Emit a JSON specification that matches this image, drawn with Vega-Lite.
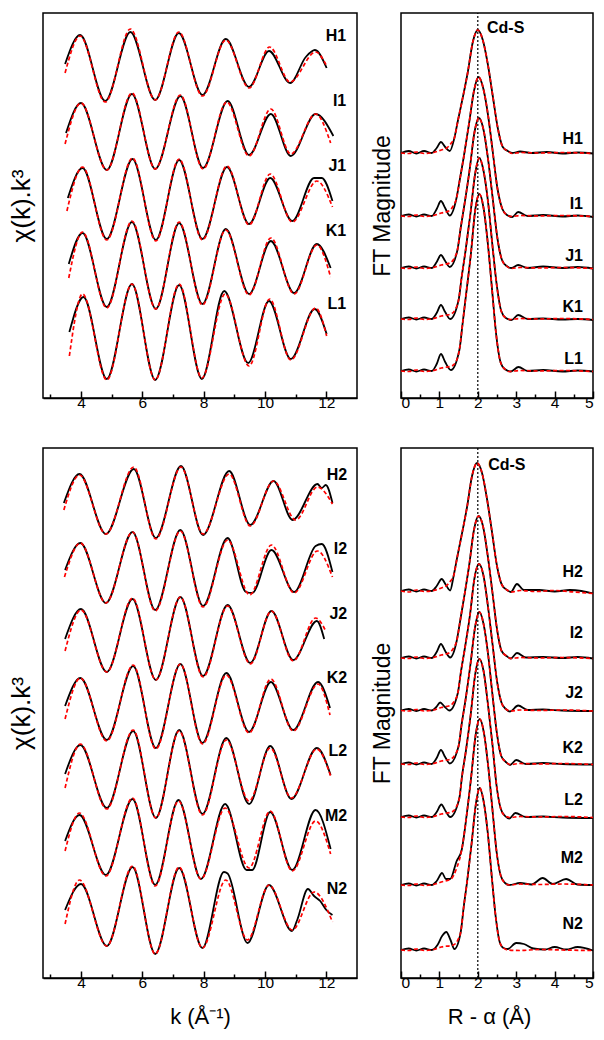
{
"$schema":"https://vega.github.io/schema/vega-lite/v6.json",
"padding":{"left":7,"top":11,"right":5,"bottom":5},
"background":"white",
"config":{"view":{"stroke":"#000","strokeWidth":1.5},"font":"Liberation Sans",
"axis":{"grid":false,"domainColor":"#000","domainWidth":1.5,"tickColor":"#000","tickWidth":1.5,"labelColor":"#000","titleColor":"#000","labelFont":"Liberation Sans","titleFont":"Liberation Sans","labelFontSize":15.5,"titleFontWeight":"normal","titleFontSize":22}},
"datasets":{
"tlD":[
{"s":"H1","x":3.48,"y":334},{"s":"H1","x":3.97,"y":363},{"s":"H1","x":4.79,"y":297},{"s":"H1","x":5.61,"y":366},{"s":"H1","x":6.42,"y":298},{"s":"H1","x":7.19,"y":365},{"s":"H1","x":7.96,"y":303},{"s":"H1","x":8.72,"y":359},{"s":"H1","x":9.48,"y":311},{"s":"H1","x":10.13,"y":347},{"s":"H1","x":10.82,"y":315},{"s":"H1","x":11.33,"y":341},{"s":"H1","x":11.63,"y":348},{"s":"H1","x":12.01,"y":330},
{"s":"I1","x":3.51,"y":265},{"s":"I1","x":4.0,"y":295},{"s":"I1","x":4.84,"y":228},{"s":"I1","x":5.66,"y":304},{"s":"I1","x":6.42,"y":229},{"s":"I1","x":7.24,"y":302},{"s":"I1","x":7.98,"y":230},{"s":"I1","x":8.78,"y":297},{"s":"I1","x":9.48,"y":243},{"s":"I1","x":10.19,"y":284},{"s":"I1","x":10.84,"y":242},{"s":"I1","x":11.65,"y":284},{"s":"I1","x":12.23,"y":262},
{"s":"J1","x":3.57,"y":200},{"s":"J1","x":4.05,"y":230},{"s":"J1","x":4.84,"y":159},{"s":"J1","x":5.68,"y":239},{"s":"J1","x":6.44,"y":158},{"s":"J1","x":7.2,"y":238},{"s":"J1","x":7.96,"y":159},{"s":"J1","x":8.76,"y":231},{"s":"J1","x":9.48,"y":174},{"s":"J1","x":10.17,"y":220},{"s":"J1","x":10.89,"y":177},{"s":"J1","x":11.6,"y":220},{"s":"J1","x":11.85,"y":220},{"s":"J1","x":12.2,"y":197},
{"s":"K1","x":3.6,"y":134},{"s":"K1","x":4.05,"y":165},{"s":"K1","x":4.84,"y":91},{"s":"K1","x":5.66,"y":176},{"s":"K1","x":6.44,"y":89},{"s":"K1","x":7.2,"y":175},{"s":"K1","x":7.96,"y":94},{"s":"K1","x":8.72,"y":169},{"s":"K1","x":9.48,"y":104},{"s":"K1","x":10.19,"y":157},{"s":"K1","x":10.95,"y":105},{"s":"K1","x":11.69,"y":154},{"s":"K1","x":12.14,"y":130},
{"s":"L1","x":3.62,"y":66},{"s":"L1","x":4.08,"y":101},{"s":"L1","x":4.84,"y":19},{"s":"L1","x":5.66,"y":114},{"s":"L1","x":6.42,"y":18},{"s":"L1","x":7.2,"y":113},{"s":"L1","x":7.94,"y":19},{"s":"L1","x":8.67,"y":107},{"s":"L1","x":9.45,"y":35},{"s":"L1","x":10.13,"y":97},{"s":"L1","x":10.84,"y":39},{"s":"L1","x":11.62,"y":89},{"s":"L1","x":12.01,"y":64}
],
"tlF":[
{"s":"H1","x":3.48,"y":325},{"s":"H1","x":3.97,"y":362},{"s":"H1","x":4.79,"y":296},{"s":"H1","x":5.61,"y":369},{"s":"H1","x":6.42,"y":298},{"s":"H1","x":7.19,"y":366},{"s":"H1","x":7.96,"y":302},{"s":"H1","x":8.72,"y":358},{"s":"H1","x":9.48,"y":310},{"s":"H1","x":10.15,"y":351},{"s":"H1","x":10.82,"y":316},{"s":"H1","x":11.65,"y":346},{"s":"H1","x":12.01,"y":332},
{"s":"I1","x":3.48,"y":254},{"s":"I1","x":4.0,"y":295},{"s":"I1","x":4.84,"y":228},{"s":"I1","x":5.66,"y":305},{"s":"I1","x":6.42,"y":229},{"s":"I1","x":7.24,"y":303},{"s":"I1","x":7.98,"y":229},{"s":"I1","x":8.75,"y":296},{"s":"I1","x":9.48,"y":242},{"s":"I1","x":10.19,"y":289},{"s":"I1","x":10.84,"y":244},{"s":"I1","x":11.65,"y":284},{"s":"I1","x":12.14,"y":255},
{"s":"J1","x":3.54,"y":187},{"s":"J1","x":4.05,"y":231},{"s":"J1","x":4.84,"y":158},{"s":"J1","x":5.68,"y":240},{"s":"J1","x":6.44,"y":157},{"s":"J1","x":7.2,"y":239},{"s":"J1","x":7.96,"y":158},{"s":"J1","x":8.76,"y":232},{"s":"J1","x":9.48,"y":173},{"s":"J1","x":10.17,"y":224},{"s":"J1","x":10.89,"y":176},{"s":"J1","x":11.69,"y":217},{"s":"J1","x":12.2,"y":191},
{"s":"K1","x":3.6,"y":120},{"s":"K1","x":4.05,"y":166},{"s":"K1","x":4.84,"y":90},{"s":"K1","x":5.66,"y":177},{"s":"K1","x":6.44,"y":89},{"s":"K1","x":7.2,"y":176},{"s":"K1","x":7.96,"y":93},{"s":"K1","x":8.72,"y":168},{"s":"K1","x":9.48,"y":103},{"s":"K1","x":10.19,"y":160},{"s":"K1","x":10.95,"y":104},{"s":"K1","x":11.69,"y":153},{"s":"K1","x":12.14,"y":121},
{"s":"L1","x":3.62,"y":42},{"s":"L1","x":4.05,"y":104},{"s":"L1","x":4.84,"y":18},{"s":"L1","x":5.66,"y":114},{"s":"L1","x":6.42,"y":18},{"s":"L1","x":7.2,"y":114},{"s":"L1","x":7.94,"y":20},{"s":"L1","x":8.7,"y":104},{"s":"L1","x":9.48,"y":32},{"s":"L1","x":10.15,"y":99},{"s":"L1","x":10.84,"y":38},{"s":"L1","x":11.65,"y":90},{"s":"L1","x":12.01,"y":62}
],
"blD":[
{"s":"H2","x":3.44,"y":475},{"s":"H2","x":3.95,"y":504},{"s":"H2","x":4.81,"y":444},{"s":"H2","x":5.72,"y":509},{"s":"H2","x":6.44,"y":440},{"s":"H2","x":7.26,"y":512},{"s":"H2","x":7.98,"y":443},{"s":"H2","x":8.83,"y":507},{"s":"H2","x":9.52,"y":453},{"s":"H2","x":10.28,"y":497},{"s":"H2","x":10.9,"y":458},{"s":"H2","x":11.71,"y":494},{"s":"H2","x":11.85,"y":490},{"s":"H2","x":11.98,"y":493},{"s":"H2","x":12.2,"y":475},
{"s":"I2","x":3.48,"y":408},{"s":"I2","x":3.98,"y":435},{"s":"I2","x":4.81,"y":375},{"s":"I2","x":5.68,"y":446},{"s":"I2","x":6.42,"y":368},{"s":"I2","x":7.24,"y":448},{"s":"I2","x":7.98,"y":372},{"s":"I2","x":8.78,"y":440},{"s":"I2","x":9.38,"y":386},{"s":"I2","x":9.58,"y":385},{"s":"I2","x":10.21,"y":428},{"s":"I2","x":10.95,"y":386},{"s":"I2","x":11.65,"y":432},{"s":"I2","x":11.85,"y":434},{"s":"I2","x":12.2,"y":406},
{"s":"J2","x":3.48,"y":339},{"s":"J2","x":4.0,"y":369},{"s":"J2","x":4.84,"y":306},{"s":"J2","x":5.68,"y":379},{"s":"J2","x":6.44,"y":298},{"s":"J2","x":7.24,"y":381},{"s":"J2","x":7.98,"y":302},{"s":"J2","x":8.78,"y":373},{"s":"J2","x":9.52,"y":315},{"s":"J2","x":10.21,"y":367},{"s":"J2","x":10.92,"y":318},{"s":"J2","x":11.69,"y":357},{"s":"J2","x":11.93,"y":339},
{"s":"K2","x":3.48,"y":272},{"s":"K2","x":3.98,"y":300},{"s":"K2","x":4.84,"y":238},{"s":"K2","x":5.7,"y":312},{"s":"K2","x":6.44,"y":230},{"s":"K2","x":7.24,"y":314},{"s":"K2","x":7.96,"y":235},{"s":"K2","x":8.74,"y":305},{"s":"K2","x":9.48,"y":246},{"s":"K2","x":10.19,"y":296},{"s":"K2","x":10.92,"y":248},{"s":"K2","x":11.73,"y":296},{"s":"K2","x":12.12,"y":270},
{"s":"L2","x":3.48,"y":204},{"s":"L2","x":3.98,"y":233},{"s":"L2","x":4.84,"y":170},{"s":"L2","x":5.7,"y":247},{"s":"L2","x":6.44,"y":160},{"s":"L2","x":7.2,"y":248},{"s":"L2","x":7.96,"y":164},{"s":"L2","x":8.74,"y":240},{"s":"L2","x":9.48,"y":174},{"s":"L2","x":10.17,"y":232},{"s":"L2","x":10.86,"y":179},{"s":"L2","x":11.69,"y":230},{"s":"L2","x":12.14,"y":203},
{"s":"M2","x":3.48,"y":137},{"s":"M2","x":3.95,"y":163},{"s":"M2","x":4.81,"y":103},{"s":"M2","x":5.68,"y":179},{"s":"M2","x":6.42,"y":93},{"s":"M2","x":7.18,"y":178},{"s":"M2","x":7.91,"y":99},{"s":"M2","x":8.7,"y":174},{"s":"M2","x":9.4,"y":108},{"s":"M2","x":9.58,"y":108},{"s":"M2","x":10.17,"y":166},{"s":"M2","x":10.89,"y":108},{"s":"M2","x":11.65,"y":168},{"s":"M2","x":12.14,"y":129},
{"s":"N2","x":3.48,"y":68},{"s":"N2","x":4.0,"y":94},{"s":"N2","x":4.84,"y":32},{"s":"N2","x":5.68,"y":111},{"s":"N2","x":6.42,"y":24},{"s":"N2","x":7.2,"y":110},{"s":"N2","x":7.96,"y":30},{"s":"N2","x":8.66,"y":106},{"s":"N2","x":8.78,"y":104.5},{"s":"N2","x":9.43,"y":35},{"s":"N2","x":10.13,"y":93},{"s":"N2","x":10.88,"y":47},{"s":"N2","x":11.05,"y":58},{"s":"N2","x":11.4,"y":89},{"s":"N2","x":11.6,"y":82},{"s":"N2","x":11.8,"y":77},{"s":"N2","x":12.0,"y":68},{"s":"N2","x":12.2,"y":63}
],
"blF":[
{"s":"H2","x":3.44,"y":468},{"s":"H2","x":3.95,"y":503},{"s":"H2","x":4.81,"y":444},{"s":"H2","x":5.72,"y":511},{"s":"H2","x":6.44,"y":439},{"s":"H2","x":7.26,"y":511},{"s":"H2","x":7.98,"y":444},{"s":"H2","x":8.83,"y":504},{"s":"H2","x":9.52,"y":452},{"s":"H2","x":10.28,"y":497},{"s":"H2","x":11.0,"y":458},{"s":"H2","x":11.71,"y":491},{"s":"H2","x":12.2,"y":474},
{"s":"I2","x":3.46,"y":401},{"s":"I2","x":3.98,"y":435},{"s":"I2","x":4.81,"y":375},{"s":"I2","x":5.68,"y":446},{"s":"I2","x":6.42,"y":367},{"s":"I2","x":7.24,"y":447},{"s":"I2","x":7.98,"y":371},{"s":"I2","x":8.78,"y":438},{"s":"I2","x":9.5,"y":383},{"s":"I2","x":10.21,"y":433},{"s":"I2","x":10.95,"y":385},{"s":"I2","x":11.71,"y":427},{"s":"I2","x":12.2,"y":401},
{"s":"J2","x":3.48,"y":327},{"s":"J2","x":4.0,"y":368},{"s":"J2","x":4.84,"y":306},{"s":"J2","x":5.68,"y":380},{"s":"J2","x":6.44,"y":298},{"s":"J2","x":7.24,"y":381},{"s":"J2","x":7.98,"y":301},{"s":"J2","x":8.78,"y":372},{"s":"J2","x":9.52,"y":314},{"s":"J2","x":10.21,"y":367},{"s":"J2","x":10.92,"y":317},{"s":"J2","x":11.65,"y":360},{"s":"J2","x":11.98,"y":347},
{"s":"K2","x":3.48,"y":259},{"s":"K2","x":3.98,"y":300},{"s":"K2","x":4.84,"y":237},{"s":"K2","x":5.7,"y":313},{"s":"K2","x":6.44,"y":229},{"s":"K2","x":7.24,"y":314},{"s":"K2","x":7.96,"y":234},{"s":"K2","x":8.74,"y":303},{"s":"K2","x":9.48,"y":245},{"s":"K2","x":10.19,"y":299},{"s":"K2","x":10.92,"y":247},{"s":"K2","x":11.73,"y":294},{"s":"K2","x":12.12,"y":263},
{"s":"L2","x":3.48,"y":190},{"s":"L2","x":3.98,"y":234},{"s":"L2","x":4.84,"y":169},{"s":"L2","x":5.7,"y":248},{"s":"L2","x":6.44,"y":160},{"s":"L2","x":7.2,"y":247},{"s":"L2","x":7.96,"y":163},{"s":"L2","x":8.74,"y":238},{"s":"L2","x":9.48,"y":177},{"s":"L2","x":10.17,"y":230},{"s":"L2","x":10.86,"y":180},{"s":"L2","x":11.69,"y":229},{"s":"L2","x":12.14,"y":202},
{"s":"M2","x":3.48,"y":127},{"s":"M2","x":3.95,"y":165},{"s":"M2","x":4.81,"y":102},{"s":"M2","x":5.68,"y":180},{"s":"M2","x":6.42,"y":92},{"s":"M2","x":7.18,"y":177},{"s":"M2","x":7.91,"y":99},{"s":"M2","x":8.7,"y":170},{"s":"M2","x":9.48,"y":110},{"s":"M2","x":10.17,"y":167},{"s":"M2","x":10.89,"y":107},{"s":"M2","x":11.65,"y":157},{"s":"M2","x":12.14,"y":124},
{"s":"N2","x":3.48,"y":54},{"s":"N2","x":3.95,"y":98},{"s":"N2","x":4.84,"y":32},{"s":"N2","x":5.68,"y":112},{"s":"N2","x":6.42,"y":24},{"s":"N2","x":7.2,"y":111},{"s":"N2","x":7.96,"y":30},{"s":"N2","x":8.72,"y":98},{"s":"N2","x":9.43,"y":38},{"s":"N2","x":10.13,"y":93},{"s":"N2","x":10.89,"y":48},{"s":"N2","x":11.6,"y":86},{"s":"N2","x":12.2,"y":56}
],
"trD":[
{"s":"H1","x":0,"y":245},{"s":"H1","x":0.2,"y":247},{"s":"H1","x":0.4,"y":244.5},{"s":"H1","x":0.6,"y":247},{"s":"H1","x":0.8,"y":245},{"s":"H1","x":0.93,"y":250},{"s":"H1","x":1.04,"y":256},{"s":"H1","x":1.15,"y":251},{"s":"H1","x":1.27,"y":247},
{"s":"H1","x":1.39,"y":260},{"s":"H1","x":1.48,"y":277},{"s":"H1","x":1.59,"y":297},{"s":"H1","x":1.74,"y":326},{"s":"H1","x":1.87,"y":356},{"s":"H1","x":2.0,"y":368},{"s":"H1","x":2.13,"y":358},{"s":"H1","x":2.26,"y":334},{"s":"H1","x":2.39,"y":302},{"s":"H1","x":2.52,"y":270},{"s":"H1","x":2.65,"y":251},{"s":"H1","x":2.78,"y":247},
{"s":"H1","x":2.9,"y":245},{"s":"H1","x":3.1,"y":246.5},{"s":"H1","x":3.4,"y":245},{"s":"H1","x":3.8,"y":246},{"s":"H1","x":4.2,"y":244.5},{"s":"H1","x":4.6,"y":245.5},{"s":"H1","x":5.0,"y":244.5},
{"s":"I1","x":0,"y":182},{"s":"I1","x":0.2,"y":183.5},{"s":"I1","x":0.4,"y":181.5},{"s":"I1","x":0.6,"y":183.5},{"s":"I1","x":0.8,"y":182},{"s":"I1","x":0.93,"y":189},{"s":"I1","x":1.04,"y":197},{"s":"I1","x":1.15,"y":190},{"s":"I1","x":1.27,"y":182.5},
{"s":"I1","x":1.44,"y":199},{"s":"I1","x":1.53,"y":218},{"s":"I1","x":1.63,"y":240},{"s":"I1","x":1.77,"y":274},{"s":"I1","x":1.9,"y":307},{"s":"I1","x":2.02,"y":321},{"s":"I1","x":2.14,"y":310},{"s":"I1","x":2.27,"y":282},{"s":"I1","x":2.39,"y":246},{"s":"I1","x":2.51,"y":210},{"s":"I1","x":2.64,"y":189},{"s":"I1","x":2.76,"y":183},
{"s":"I1","x":2.9,"y":181},{"s":"I1","x":3.05,"y":186},{"s":"I1","x":3.3,"y":182},{"s":"I1","x":3.7,"y":183},{"s":"I1","x":4.2,"y":181.5},{"s":"I1","x":4.6,"y":182.5},{"s":"I1","x":5.0,"y":181},
{"s":"J1","x":0,"y":130},{"s":"J1","x":0.2,"y":131.5},{"s":"J1","x":0.4,"y":129.5},{"s":"J1","x":0.6,"y":131.5},{"s":"J1","x":0.8,"y":130},{"s":"J1","x":0.93,"y":136},{"s":"J1","x":1.04,"y":143},{"s":"J1","x":1.15,"y":137},{"s":"J1","x":1.27,"y":131},
{"s":"J1","x":1.47,"y":148},{"s":"J1","x":1.55,"y":169},{"s":"J1","x":1.65,"y":193},{"s":"J1","x":1.79,"y":229},{"s":"J1","x":1.91,"y":265},{"s":"J1","x":2.03,"y":280},{"s":"J1","x":2.15,"y":268},{"s":"J1","x":2.27,"y":238},{"s":"J1","x":2.39,"y":199},{"s":"J1","x":2.51,"y":160},{"s":"J1","x":2.63,"y":138},{"s":"J1","x":2.75,"y":132},
{"s":"J1","x":2.88,"y":130},{"s":"J1","x":3.05,"y":133},{"s":"J1","x":3.3,"y":130},{"s":"J1","x":3.7,"y":131.5},{"s":"J1","x":4.2,"y":130},{"s":"J1","x":4.6,"y":131},{"s":"J1","x":5.0,"y":129.5},
{"s":"K1","x":0,"y":79},{"s":"K1","x":0.2,"y":80.5},{"s":"K1","x":0.4,"y":78.5},{"s":"K1","x":0.6,"y":80.5},{"s":"K1","x":0.8,"y":79},{"s":"K1","x":0.93,"y":85},{"s":"K1","x":1.04,"y":93},{"s":"K1","x":1.15,"y":86},{"s":"K1","x":1.28,"y":79},
{"s":"K1","x":1.5,"y":98},{"s":"K1","x":1.58,"y":121},{"s":"K1","x":1.68,"y":147},{"s":"K1","x":1.81,"y":185},{"s":"K1","x":1.93,"y":224},{"s":"K1","x":2.04,"y":240},{"s":"K1","x":2.15,"y":227},{"s":"K1","x":2.27,"y":195},{"s":"K1","x":2.38,"y":153},{"s":"K1","x":2.5,"y":111},{"s":"K1","x":2.61,"y":87},{"s":"K1","x":2.73,"y":80},
{"s":"K1","x":2.88,"y":78},{"s":"K1","x":3.05,"y":83},{"s":"K1","x":3.3,"y":79},{"s":"K1","x":3.7,"y":79.5},{"s":"K1","x":4.2,"y":78.5},{"s":"K1","x":4.6,"y":79},{"s":"K1","x":5.0,"y":78},
{"s":"L1","x":0,"y":27},{"s":"L1","x":0.2,"y":28.5},{"s":"L1","x":0.4,"y":26.5},{"s":"L1","x":0.6,"y":28.5},{"s":"L1","x":0.8,"y":27},{"s":"L1","x":0.93,"y":34},{"s":"L1","x":1.04,"y":44},{"s":"L1","x":1.15,"y":36},{"s":"L1","x":1.3,"y":28},
{"s":"L1","x":1.52,"y":48},{"s":"L1","x":1.6,"y":73},{"s":"L1","x":1.69,"y":102},{"s":"L1","x":1.82,"y":144},{"s":"L1","x":1.93,"y":187},{"s":"L1","x":2.04,"y":204},{"s":"L1","x":2.15,"y":190},{"s":"L1","x":2.26,"y":155},{"s":"L1","x":2.37,"y":109},{"s":"L1","x":2.48,"y":63},{"s":"L1","x":2.59,"y":36},{"s":"L1","x":2.7,"y":29},
{"s":"L1","x":2.86,"y":26.5},{"s":"L1","x":3.06,"y":31},{"s":"L1","x":3.3,"y":27},{"s":"L1","x":3.7,"y":28},{"s":"L1","x":4.2,"y":26.5},{"s":"L1","x":4.6,"y":27.5},{"s":"L1","x":5.0,"y":26.5}
],
"trF":[
{"s":"H1","x":0,"y":245},{"s":"H1","x":0.2,"y":244.5},{"s":"H1","x":0.4,"y":246},{"s":"H1","x":0.6,"y":244.5},{"s":"H1","x":0.85,"y":245.5},{"s":"H1","x":1.05,"y":248},{"s":"H1","x":1.19,"y":250},{"s":"H1","x":1.31,"y":255},
{"s":"H1","x":1.39,"y":260},{"s":"H1","x":1.48,"y":277},{"s":"H1","x":1.59,"y":297},{"s":"H1","x":1.74,"y":326},{"s":"H1","x":1.87,"y":356},{"s":"H1","x":2.0,"y":368},{"s":"H1","x":2.13,"y":358},{"s":"H1","x":2.26,"y":334},{"s":"H1","x":2.39,"y":302},{"s":"H1","x":2.52,"y":270},{"s":"H1","x":2.65,"y":251},{"s":"H1","x":2.78,"y":247},
{"s":"H1","x":2.9,"y":244.5},{"s":"H1","x":3.1,"y":245.5},{"s":"H1","x":3.6,"y":245},{"s":"H1","x":4.2,"y":245.5},{"s":"H1","x":5.0,"y":244.5},
{"s":"I1","x":0,"y":182},{"s":"I1","x":0.2,"y":181.5},{"s":"I1","x":0.4,"y":183},{"s":"I1","x":0.6,"y":181.5},{"s":"I1","x":0.85,"y":182.5},{"s":"I1","x":1.05,"y":185},{"s":"I1","x":1.24,"y":187},{"s":"I1","x":1.36,"y":192},
{"s":"I1","x":1.44,"y":199},{"s":"I1","x":1.53,"y":218},{"s":"I1","x":1.63,"y":240},{"s":"I1","x":1.77,"y":274},{"s":"I1","x":1.9,"y":307},{"s":"I1","x":2.02,"y":321},{"s":"I1","x":2.14,"y":310},{"s":"I1","x":2.27,"y":282},{"s":"I1","x":2.39,"y":246},{"s":"I1","x":2.51,"y":210},{"s":"I1","x":2.64,"y":189},{"s":"I1","x":2.76,"y":183},
{"s":"I1","x":2.88,"y":181.5},{"s":"I1","x":3.1,"y":182.5},{"s":"I1","x":3.6,"y":182},{"s":"I1","x":4.2,"y":182.5},{"s":"I1","x":5.0,"y":181.5},
{"s":"J1","x":0,"y":130},{"s":"J1","x":0.2,"y":129.5},{"s":"J1","x":0.4,"y":131},{"s":"J1","x":0.6,"y":129.5},{"s":"J1","x":0.85,"y":130.5},{"s":"J1","x":1.05,"y":133},{"s":"J1","x":1.27,"y":135},{"s":"J1","x":1.39,"y":140},
{"s":"J1","x":1.47,"y":148},{"s":"J1","x":1.55,"y":169},{"s":"J1","x":1.65,"y":193},{"s":"J1","x":1.79,"y":229},{"s":"J1","x":1.91,"y":265},{"s":"J1","x":2.03,"y":280},{"s":"J1","x":2.15,"y":268},{"s":"J1","x":2.27,"y":238},{"s":"J1","x":2.39,"y":199},{"s":"J1","x":2.51,"y":160},{"s":"J1","x":2.63,"y":138},{"s":"J1","x":2.75,"y":132},
{"s":"J1","x":2.87,"y":129.5},{"s":"J1","x":3.1,"y":130.5},{"s":"J1","x":3.6,"y":130},{"s":"J1","x":4.2,"y":130.5},{"s":"J1","x":5.0,"y":129.5},
{"s":"K1","x":0,"y":79},{"s":"K1","x":0.2,"y":78.5},{"s":"K1","x":0.4,"y":80},{"s":"K1","x":0.6,"y":78.5},{"s":"K1","x":0.85,"y":79.5},{"s":"K1","x":1.05,"y":82},{"s":"K1","x":1.3,"y":84},{"s":"K1","x":1.42,"y":89},
{"s":"K1","x":1.5,"y":98},{"s":"K1","x":1.58,"y":121},{"s":"K1","x":1.68,"y":147},{"s":"K1","x":1.81,"y":185},{"s":"K1","x":1.93,"y":224},{"s":"K1","x":2.04,"y":240},{"s":"K1","x":2.15,"y":227},{"s":"K1","x":2.27,"y":195},{"s":"K1","x":2.38,"y":153},{"s":"K1","x":2.5,"y":111},{"s":"K1","x":2.61,"y":87},{"s":"K1","x":2.73,"y":80},
{"s":"K1","x":2.85,"y":78.5},{"s":"K1","x":3.1,"y":79.5},{"s":"K1","x":3.6,"y":79},{"s":"K1","x":4.2,"y":79.5},{"s":"K1","x":5.0,"y":78.5},
{"s":"L1","x":0,"y":27},{"s":"L1","x":0.2,"y":26.5},{"s":"L1","x":0.4,"y":28},{"s":"L1","x":0.6,"y":26.5},{"s":"L1","x":0.85,"y":27.5},{"s":"L1","x":1.05,"y":30},{"s":"L1","x":1.32,"y":32},{"s":"L1","x":1.44,"y":37},
{"s":"L1","x":1.52,"y":48},{"s":"L1","x":1.6,"y":73},{"s":"L1","x":1.69,"y":102},{"s":"L1","x":1.82,"y":144},{"s":"L1","x":1.93,"y":187},{"s":"L1","x":2.04,"y":204},{"s":"L1","x":2.15,"y":190},{"s":"L1","x":2.26,"y":155},{"s":"L1","x":2.37,"y":109},{"s":"L1","x":2.48,"y":63},{"s":"L1","x":2.59,"y":36},{"s":"L1","x":2.7,"y":29},
{"s":"L1","x":2.82,"y":26.5},{"s":"L1","x":3.1,"y":27.5},{"s":"L1","x":3.6,"y":27},{"s":"L1","x":4.2,"y":27.5},{"s":"L1","x":5.0,"y":26.5}
],
"brD":[
{"s":"H2","x":0,"y":387},{"s":"H2","x":0.2,"y":388.5},{"s":"H2","x":0.4,"y":386.5},{"s":"H2","x":0.6,"y":388.5},{"s":"H2","x":0.8,"y":387},{"s":"H2","x":0.93,"y":392},{"s":"H2","x":1.06,"y":399},{"s":"H2","x":1.17,"y":393},{"s":"H2","x":1.28,"y":387.5},
{"s":"H2","x":1.37,"y":402},{"s":"H2","x":1.46,"y":420},{"s":"H2","x":1.57,"y":441},{"s":"H2","x":1.72,"y":471},{"s":"H2","x":1.85,"y":502},{"s":"H2","x":1.98,"y":515},{"s":"H2","x":2.11,"y":505},{"s":"H2","x":2.24,"y":479},{"s":"H2","x":2.37,"y":446},{"s":"H2","x":2.5,"y":412},{"s":"H2","x":2.63,"y":393},{"s":"H2","x":2.76,"y":388},
{"s":"H2","x":2.86,"y":386},{"s":"H2","x":3.02,"y":394},{"s":"H2","x":3.2,"y":388},{"s":"H2","x":3.6,"y":388},{"s":"H2","x":4.0,"y":386.5},{"s":"H2","x":4.4,"y":388},{"s":"H2","x":4.7,"y":387},{"s":"H2","x":5.0,"y":384.5},
{"s":"I2","x":0,"y":320},{"s":"I2","x":0.2,"y":321.5},{"s":"I2","x":0.4,"y":319.5},{"s":"I2","x":0.6,"y":321.5},{"s":"I2","x":0.8,"y":320},{"s":"I2","x":0.93,"y":326},{"s":"I2","x":1.04,"y":334},{"s":"I2","x":1.15,"y":327},{"s":"I2","x":1.28,"y":320.5},
{"s":"I2","x":1.45,"y":337},{"s":"I2","x":1.54,"y":357},{"s":"I2","x":1.64,"y":380},{"s":"I2","x":1.78,"y":414},{"s":"I2","x":1.9,"y":448},{"s":"I2","x":2.02,"y":462},{"s":"I2","x":2.14,"y":451},{"s":"I2","x":2.26,"y":422},{"s":"I2","x":2.38,"y":386},{"s":"I2","x":2.5,"y":349},{"s":"I2","x":2.62,"y":327},{"s":"I2","x":2.75,"y":322},
{"s":"I2","x":2.86,"y":319.5},{"s":"I2","x":3.02,"y":325},{"s":"I2","x":3.25,"y":320.5},{"s":"I2","x":3.7,"y":321},{"s":"I2","x":4.2,"y":320},{"s":"I2","x":4.6,"y":321},{"s":"I2","x":5.0,"y":319.5},
{"s":"J2","x":0,"y":267.5},{"s":"J2","x":0.2,"y":269},{"s":"J2","x":0.4,"y":267},{"s":"J2","x":0.6,"y":269},{"s":"J2","x":0.8,"y":267.5},{"s":"J2","x":0.92,"y":271},{"s":"J2","x":1.02,"y":275.5},{"s":"J2","x":1.13,"y":271.5},{"s":"J2","x":1.26,"y":267.5},
{"s":"J2","x":1.48,"y":285},{"s":"J2","x":1.56,"y":306},{"s":"J2","x":1.66,"y":329},{"s":"J2","x":1.8,"y":364},{"s":"J2","x":1.91,"y":399},{"s":"J2","x":2.03,"y":414},{"s":"J2","x":2.15,"y":402},{"s":"J2","x":2.26,"y":373},{"s":"J2","x":2.38,"y":335},{"s":"J2","x":2.5,"y":297},{"s":"J2","x":2.62,"y":275},{"s":"J2","x":2.73,"y":269},
{"s":"J2","x":2.84,"y":266.5},{"s":"J2","x":3.05,"y":272.5},{"s":"J2","x":3.3,"y":268},{"s":"J2","x":3.7,"y":268.5},{"s":"J2","x":4.2,"y":267.5},{"s":"J2","x":5.0,"y":267},
{"s":"K2","x":0,"y":214},{"s":"K2","x":0.2,"y":215.5},{"s":"K2","x":0.4,"y":213.5},{"s":"K2","x":0.6,"y":215.5},{"s":"K2","x":0.8,"y":214},{"s":"K2","x":0.93,"y":220},{"s":"K2","x":1.04,"y":228},{"s":"K2","x":1.15,"y":221},{"s":"K2","x":1.27,"y":214.5},
{"s":"K2","x":1.5,"y":232},{"s":"K2","x":1.58,"y":254},{"s":"K2","x":1.68,"y":278},{"s":"K2","x":1.81,"y":314},{"s":"K2","x":1.93,"y":351},{"s":"K2","x":2.04,"y":366},{"s":"K2","x":2.15,"y":354},{"s":"K2","x":2.27,"y":323},{"s":"K2","x":2.38,"y":284},{"s":"K2","x":2.5,"y":244},{"s":"K2","x":2.61,"y":222},{"s":"K2","x":2.73,"y":216},
{"s":"K2","x":2.84,"y":213},{"s":"K2","x":3.0,"y":218},{"s":"K2","x":3.25,"y":214},{"s":"K2","x":3.7,"y":215},{"s":"K2","x":4.2,"y":214},{"s":"K2","x":5.0,"y":213.5},
{"s":"L2","x":0,"y":161},{"s":"L2","x":0.2,"y":162.5},{"s":"L2","x":0.4,"y":160.5},{"s":"L2","x":0.6,"y":162.5},{"s":"L2","x":0.8,"y":161},{"s":"L2","x":0.93,"y":166},{"s":"L2","x":1.05,"y":173.5},{"s":"L2","x":1.16,"y":167},{"s":"L2","x":1.28,"y":161},
{"s":"L2","x":1.52,"y":180},{"s":"L2","x":1.59,"y":202},{"s":"L2","x":1.69,"y":227},{"s":"L2","x":1.82,"y":265},{"s":"L2","x":1.93,"y":303},{"s":"L2","x":2.04,"y":319},{"s":"L2","x":2.15,"y":307},{"s":"L2","x":2.26,"y":275},{"s":"L2","x":2.38,"y":234},{"s":"L2","x":2.49,"y":192},{"s":"L2","x":2.6,"y":169},{"s":"L2","x":2.71,"y":162},
{"s":"L2","x":2.82,"y":159.5},{"s":"L2","x":2.98,"y":165},{"s":"L2","x":3.25,"y":161},{"s":"L2","x":3.7,"y":161.5},{"s":"L2","x":4.2,"y":160.5},{"s":"L2","x":5.0,"y":160},
{"s":"M2","x":0,"y":93},{"s":"M2","x":0.2,"y":94.5},{"s":"M2","x":0.4,"y":92.5},{"s":"M2","x":0.6,"y":94.5},{"s":"M2","x":0.8,"y":93},{"s":"M2","x":0.93,"y":97},{"s":"M2","x":1.07,"y":105},{"s":"M2","x":1.17,"y":99},{"s":"M2","x":1.28,"y":99},{"s":"M2","x":1.45,"y":117},{"s":"M2","x":1.58,"y":128},
{"s":"M2","x":1.71,"y":163},{"s":"M2","x":1.83,"y":202},{"s":"M2","x":1.94,"y":242},{"s":"M2","x":2.05,"y":259},{"s":"M2","x":2.16,"y":245},{"s":"M2","x":2.27,"y":212},{"s":"M2","x":2.38,"y":169},{"s":"M2","x":2.49,"y":126},{"s":"M2","x":2.6,"y":102},{"s":"M2","x":2.71,"y":95},
{"s":"M2","x":2.82,"y":93},{"s":"M2","x":3.1,"y":95},{"s":"M2","x":3.4,"y":93.5},{"s":"M2","x":3.69,"y":100},{"s":"M2","x":3.95,"y":94},{"s":"M2","x":4.3,"y":99},{"s":"M2","x":4.6,"y":93.5},{"s":"M2","x":5.0,"y":93},
{"s":"N2","x":0,"y":28},{"s":"N2","x":0.2,"y":29.5},{"s":"N2","x":0.4,"y":27.5},{"s":"N2","x":0.6,"y":29.5},{"s":"N2","x":0.8,"y":28},{"s":"N2","x":0.95,"y":33},{"s":"N2","x":1.07,"y":42},{"s":"N2","x":1.18,"y":46},{"s":"N2","x":1.29,"y":38},{"s":"N2","x":1.39,"y":29},
{"s":"N2","x":1.56,"y":47},{"s":"N2","x":1.63,"y":70},{"s":"N2","x":1.72,"y":96},{"s":"N2","x":1.84,"y":135},{"s":"N2","x":1.95,"y":174},{"s":"N2","x":2.05,"y":190},{"s":"N2","x":2.15,"y":177},{"s":"N2","x":2.26,"y":145},{"s":"N2","x":2.36,"y":103},{"s":"N2","x":2.47,"y":60},{"s":"N2","x":2.57,"y":36},{"s":"N2","x":2.67,"y":30},
{"s":"N2","x":2.78,"y":29},{"s":"N2","x":3.0,"y":35},{"s":"N2","x":3.2,"y":34},{"s":"N2","x":3.45,"y":29.5},{"s":"N2","x":3.75,"y":28.5},{"s":"N2","x":4.0,"y":31},{"s":"N2","x":4.3,"y":28.5},{"s":"N2","x":4.6,"y":31},{"s":"N2","x":5.0,"y":27.5}
],
"brF":[
{"s":"H2","x":0,"y":387},{"s":"H2","x":0.2,"y":386},{"s":"H2","x":0.4,"y":388},{"s":"H2","x":0.6,"y":386.5},{"s":"H2","x":0.85,"y":387.5},{"s":"H2","x":1.05,"y":390},{"s":"H2","x":1.17,"y":392},{"s":"H2","x":1.29,"y":397},
{"s":"H2","x":1.37,"y":402},{"s":"H2","x":1.46,"y":420},{"s":"H2","x":1.57,"y":441},{"s":"H2","x":1.72,"y":471},{"s":"H2","x":1.85,"y":502},{"s":"H2","x":1.98,"y":515},{"s":"H2","x":2.11,"y":505},{"s":"H2","x":2.24,"y":479},{"s":"H2","x":2.37,"y":446},{"s":"H2","x":2.5,"y":412},{"s":"H2","x":2.63,"y":393},{"s":"H2","x":2.76,"y":388},
{"s":"H2","x":2.88,"y":386},{"s":"H2","x":3.1,"y":387.5},{"s":"H2","x":3.5,"y":386.5},{"s":"H2","x":4.0,"y":387.5},{"s":"H2","x":4.5,"y":386},{"s":"H2","x":5.0,"y":384.5},
{"s":"I2","x":0,"y":320},{"s":"I2","x":0.2,"y":319.5},{"s":"I2","x":0.4,"y":321},{"s":"I2","x":0.6,"y":319.5},{"s":"I2","x":0.85,"y":320.5},{"s":"I2","x":1.05,"y":323},{"s":"I2","x":1.25,"y":325},{"s":"I2","x":1.37,"y":330},
{"s":"I2","x":1.45,"y":337},{"s":"I2","x":1.54,"y":357},{"s":"I2","x":1.64,"y":380},{"s":"I2","x":1.78,"y":414},{"s":"I2","x":1.9,"y":448},{"s":"I2","x":2.02,"y":462},{"s":"I2","x":2.14,"y":451},{"s":"I2","x":2.26,"y":422},{"s":"I2","x":2.38,"y":386},{"s":"I2","x":2.5,"y":349},{"s":"I2","x":2.62,"y":327},{"s":"I2","x":2.75,"y":322},
{"s":"I2","x":2.87,"y":319.5},{"s":"I2","x":3.1,"y":320.5},{"s":"I2","x":3.6,"y":320},{"s":"I2","x":4.2,"y":320.5},{"s":"I2","x":5.0,"y":319.5},
{"s":"J2","x":0,"y":267.5},{"s":"J2","x":0.2,"y":267},{"s":"J2","x":0.4,"y":268.5},{"s":"J2","x":0.6,"y":267},{"s":"J2","x":0.85,"y":268},{"s":"J2","x":1.05,"y":270.5},{"s":"J2","x":1.28,"y":272.5},{"s":"J2","x":1.4,"y":277.5},
{"s":"J2","x":1.48,"y":285},{"s":"J2","x":1.56,"y":306},{"s":"J2","x":1.66,"y":329},{"s":"J2","x":1.8,"y":364},{"s":"J2","x":1.91,"y":399},{"s":"J2","x":2.03,"y":414},{"s":"J2","x":2.15,"y":402},{"s":"J2","x":2.26,"y":373},{"s":"J2","x":2.38,"y":335},{"s":"J2","x":2.5,"y":297},{"s":"J2","x":2.62,"y":275},{"s":"J2","x":2.73,"y":269},
{"s":"J2","x":2.85,"y":267},{"s":"J2","x":3.1,"y":268},{"s":"J2","x":3.6,"y":267.5},{"s":"J2","x":4.2,"y":268},{"s":"J2","x":5.0,"y":267},
{"s":"K2","x":0,"y":214},{"s":"K2","x":0.2,"y":213.5},{"s":"K2","x":0.4,"y":215},{"s":"K2","x":0.6,"y":213.5},{"s":"K2","x":0.85,"y":214.5},{"s":"K2","x":1.05,"y":217},{"s":"K2","x":1.3,"y":219},{"s":"K2","x":1.42,"y":224},
{"s":"K2","x":1.5,"y":232},{"s":"K2","x":1.58,"y":254},{"s":"K2","x":1.68,"y":278},{"s":"K2","x":1.81,"y":314},{"s":"K2","x":1.93,"y":351},{"s":"K2","x":2.04,"y":366},{"s":"K2","x":2.15,"y":354},{"s":"K2","x":2.27,"y":323},{"s":"K2","x":2.38,"y":284},{"s":"K2","x":2.5,"y":244},{"s":"K2","x":2.61,"y":222},{"s":"K2","x":2.73,"y":216},
{"s":"K2","x":2.85,"y":213.5},{"s":"K2","x":3.1,"y":214.5},{"s":"K2","x":3.6,"y":214},{"s":"K2","x":4.2,"y":214.5},{"s":"K2","x":5.0,"y":213.5},
{"s":"L2","x":0,"y":161},{"s":"L2","x":0.2,"y":160.5},{"s":"L2","x":0.4,"y":162},{"s":"L2","x":0.6,"y":160.5},{"s":"L2","x":0.85,"y":161.5},{"s":"L2","x":1.05,"y":164},{"s":"L2","x":1.32,"y":166},{"s":"L2","x":1.44,"y":171},
{"s":"L2","x":1.52,"y":180},{"s":"L2","x":1.59,"y":202},{"s":"L2","x":1.69,"y":227},{"s":"L2","x":1.82,"y":265},{"s":"L2","x":1.93,"y":303},{"s":"L2","x":2.04,"y":319},{"s":"L2","x":2.15,"y":307},{"s":"L2","x":2.26,"y":275},{"s":"L2","x":2.38,"y":234},{"s":"L2","x":2.49,"y":192},{"s":"L2","x":2.6,"y":169},{"s":"L2","x":2.71,"y":162},
{"s":"L2","x":2.83,"y":160.5},{"s":"L2","x":3.1,"y":161.5},{"s":"L2","x":3.6,"y":161},{"s":"L2","x":4.2,"y":161.5},{"s":"L2","x":5.0,"y":160.5},
{"s":"M2","x":0,"y":93},{"s":"M2","x":0.2,"y":92.5},{"s":"M2","x":0.4,"y":94},{"s":"M2","x":0.6,"y":92.5},{"s":"M2","x":0.85,"y":93.5},{"s":"M2","x":1.05,"y":96},{"s":"M2","x":1.3,"y":99},{"s":"M2","x":1.45,"y":110},{"s":"M2","x":1.58,"y":128},
{"s":"M2","x":1.71,"y":163},{"s":"M2","x":1.83,"y":202},{"s":"M2","x":1.94,"y":242},{"s":"M2","x":2.05,"y":259},{"s":"M2","x":2.16,"y":245},{"s":"M2","x":2.27,"y":212},{"s":"M2","x":2.38,"y":169},{"s":"M2","x":2.49,"y":126},{"s":"M2","x":2.6,"y":102},{"s":"M2","x":2.71,"y":95},
{"s":"M2","x":2.82,"y":93},{"s":"M2","x":3.1,"y":94},{"s":"M2","x":3.6,"y":93.5},{"s":"M2","x":4.2,"y":94},{"s":"M2","x":5.0,"y":93},
{"s":"N2","x":0,"y":28},{"s":"N2","x":0.2,"y":27.5},{"s":"N2","x":0.4,"y":29},{"s":"N2","x":0.6,"y":27.5},{"s":"N2","x":0.85,"y":28.5},{"s":"N2","x":1.05,"y":31},{"s":"N2","x":1.36,"y":33},{"s":"N2","x":1.48,"y":38},
{"s":"N2","x":1.56,"y":47},{"s":"N2","x":1.63,"y":70},{"s":"N2","x":1.72,"y":96},{"s":"N2","x":1.84,"y":135},{"s":"N2","x":1.95,"y":174},{"s":"N2","x":2.05,"y":190},{"s":"N2","x":2.15,"y":177},{"s":"N2","x":2.26,"y":145},{"s":"N2","x":2.36,"y":103},{"s":"N2","x":2.47,"y":60},{"s":"N2","x":2.57,"y":36},{"s":"N2","x":2.67,"y":30},
{"s":"N2","x":2.78,"y":28},{"s":"N2","x":3.1,"y":27.5},{"s":"N2","x":3.6,"y":28.5},{"s":"N2","x":4.2,"y":28},{"s":"N2","x":5.0,"y":27.5}
],
"tlL":[{"t":"H1","x":12.65,"y":362},{"t":"I1","x":12.65,"y":297},{"t":"J1","x":12.65,"y":232},{"t":"K1","x":12.65,"y":167},{"t":"L1","x":12.65,"y":94}],
"blL":[{"t":"H2","x":12.68,"y":503},{"t":"I2","x":12.68,"y":429},{"t":"J2","x":12.68,"y":364},{"t":"K2","x":12.68,"y":300},{"t":"L2","x":12.68,"y":227},{"t":"M2","x":12.68,"y":162},{"t":"N2","x":12.68,"y":89}],
"trL":[{"t":"H1","x":4.74,"y":259},{"t":"I1","x":4.74,"y":194},{"t":"J1","x":4.74,"y":142},{"t":"K1","x":4.74,"y":91},{"t":"L1","x":4.74,"y":39}],
"brL":[{"t":"H2","x":4.74,"y":406},{"t":"I2","x":4.74,"y":345},{"t":"J2","x":4.74,"y":285},{"t":"K2","x":4.74,"y":230},{"t":"L2","x":4.74,"y":178},{"t":"M2","x":4.74,"y":120},{"t":"N2","x":4.74,"y":54}]
},
"bounds":"flush",
"columns":2,
"spacing":{"row":50,"column":44},
"concat":[
{"width":314,"height":385,
"encoding":{
"x":{"field":"x","type":"quantitative","scale":{"domain":[2.76,13],"nice":false,"zero":false},
"axis":{"title":null,"values":[3,4,5,6,7,8,9,10,11,12],"labelExpr":"datum.value % 2 === 0 ? datum.label : ''","tickSize":{"condition":{"test":"datum.value % 2 === 0","value":-7},"value":-4},"labelPadding":4}},
"y":{"field":"y","type":"quantitative","scale":{"domain":[0,385],"nice":false,"zero":false},
"axis":{"title":"χ(k).k³","labels":false,"ticks":false,"domain":false,"titlePadding":9,"titleFontSize":26}}},
"layer":[
{"data":{"name":"tlD"},"mark":{"type":"line","color":"#000","strokeWidth":1.8,"interpolate":"monotone"},"encoding":{"detail":{"field":"s"}}},
{"data":{"name":"tlF"},"mark":{"type":"line","color":"#ff0000","strokeWidth":1.7,"strokeDash":[4,2.5],"interpolate":"monotone"},"encoding":{"detail":{"field":"s"}}},
{"data":{"name":"tlL"},"mark":{"type":"text","align":"right","baseline":"middle","fontWeight":"bold","fontSize":16,"font":"Liberation Sans","color":"#000"},"encoding":{"text":{"field":"t"}}}
]},
{"width":192,"height":385,
"encoding":{
"x":{"field":"x","type":"quantitative","scale":{"domain":[0,5],"nice":false,"zero":false},
"axis":{"title":null,"values":[0,0.5,1,1.5,2,2.5,3,3.5,4,4.5,5],"labelExpr":"datum.value % 1 === 0 ? format(datum.value, 'd') : ''","tickSize":{"condition":{"test":"datum.value % 1 === 0","value":-7},"value":-4},"labelPadding":4}},
"y":{"field":"y","type":"quantitative","scale":{"domain":[0,385],"nice":false,"zero":false},
"axis":{"title":"FT Magnitude","labels":false,"ticks":false,"domain":false,"titlePadding":7,"titleFontSize":23}}},
"layer":[
{"data":{"values":[{"x":2.0,"y":0,"y2":385}]},"mark":{"type":"rule","color":"#000","strokeWidth":1.2,"strokeDash":[2,2]},"encoding":{"y2":{"field":"y2"}}},
{"data":{"name":"trD"},"mark":{"type":"line","color":"#000","strokeWidth":1.8,"interpolate":"monotone"},"encoding":{"detail":{"field":"s"}}},
{"data":{"name":"trF"},"mark":{"type":"line","color":"#ff0000","strokeWidth":1.7,"strokeDash":[4,2.5],"interpolate":"monotone"},"encoding":{"detail":{"field":"s"}}},
{"data":{"name":"trL"},"mark":{"type":"text","align":"right","baseline":"middle","fontWeight":"bold","fontSize":16,"font":"Liberation Sans","color":"#000"},"encoding":{"text":{"field":"t"}}},
{"data":{"values":[{"t":"Cd-S","x":2.24,"y":370}]},"mark":{"type":"text","align":"left","baseline":"middle","fontWeight":"bold","fontSize":16,"font":"Liberation Sans","color":"#000"},"encoding":{"text":{"field":"t"}}}
]},
{"width":314,"height":530,
"encoding":{
"x":{"field":"x","type":"quantitative","scale":{"domain":[2.76,13],"nice":false,"zero":false},
"axis":{"title":"k (Å⁻¹)","titlePadding":16,"values":[3,4,5,6,7,8,9,10,11,12],"labelExpr":"datum.value % 2 === 0 ? datum.label : ''","tickSize":{"condition":{"test":"datum.value % 2 === 0","value":-7},"value":-4},"labelPadding":4}},
"y":{"field":"y","type":"quantitative","scale":{"domain":[0,530],"nice":false,"zero":false},
"axis":{"title":"χ(k).k³","labels":false,"ticks":false,"domain":false,"titlePadding":9,"titleFontSize":26}}},
"layer":[
{"data":{"name":"blD"},"mark":{"type":"line","color":"#000","strokeWidth":1.8,"interpolate":"monotone"},"encoding":{"detail":{"field":"s"}}},
{"data":{"name":"blF"},"mark":{"type":"line","color":"#ff0000","strokeWidth":1.7,"strokeDash":[4,2.5],"interpolate":"monotone"},"encoding":{"detail":{"field":"s"}}},
{"data":{"name":"blL"},"mark":{"type":"text","align":"right","baseline":"middle","fontWeight":"bold","fontSize":16,"font":"Liberation Sans","color":"#000"},"encoding":{"text":{"field":"t"}}}
]},
{"width":192,"height":530,
"encoding":{
"x":{"field":"x","type":"quantitative","scale":{"domain":[0,5],"nice":false,"zero":false},
"axis":{"title":"R - α (Å)","titlePadding":16,"titleX":88,"values":[0,0.5,1,1.5,2,2.5,3,3.5,4,4.5,5],"labelExpr":"datum.value % 1 === 0 ? format(datum.value, 'd') : ''","tickSize":{"condition":{"test":"datum.value % 1 === 0","value":-7},"value":-4},"labelPadding":4}},
"y":{"field":"y","type":"quantitative","scale":{"domain":[0,530],"nice":false,"zero":false},
"axis":{"title":"FT Magnitude","labels":false,"ticks":false,"domain":false,"titlePadding":7,"titleFontSize":23}}},
"layer":[
{"data":{"values":[{"x":2.0,"y":0,"y2":530}]},"mark":{"type":"rule","color":"#000","strokeWidth":1.2,"strokeDash":[2,2]},"encoding":{"y2":{"field":"y2"}}},
{"data":{"name":"brD"},"mark":{"type":"line","color":"#000","strokeWidth":1.8,"interpolate":"monotone"},"encoding":{"detail":{"field":"s"}}},
{"data":{"name":"brF"},"mark":{"type":"line","color":"#ff0000","strokeWidth":1.7,"strokeDash":[4,2.5],"interpolate":"monotone"},"encoding":{"detail":{"field":"s"}}},
{"data":{"name":"brL"},"mark":{"type":"text","align":"right","baseline":"middle","fontWeight":"bold","fontSize":16,"font":"Liberation Sans","color":"#000"},"encoding":{"text":{"field":"t"}}},
{"data":{"values":[{"t":"Cd-S","x":2.27,"y":513}]},"mark":{"type":"text","align":"left","baseline":"middle","fontWeight":"bold","fontSize":16,"font":"Liberation Sans","color":"#000"},"encoding":{"text":{"field":"t"}}}
]}
]
}
